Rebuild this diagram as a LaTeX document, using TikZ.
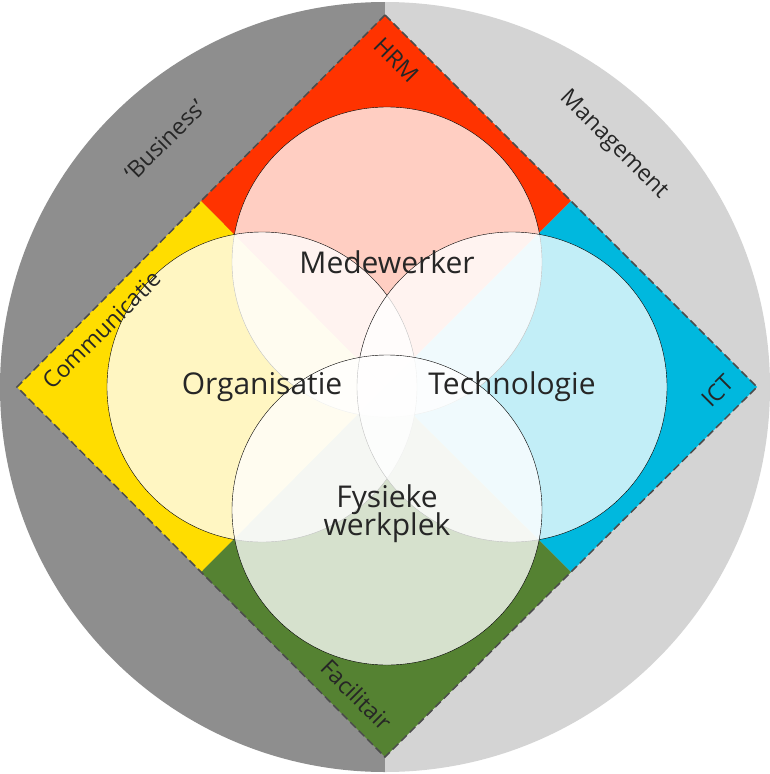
\documentclass[tikz,border=0pt]{standalone}
\usepackage{fontspec}
\setmainfont{Open Sans}
\usetikzlibrary{calc}
\definecolor{hrmred}{HTML}{FF3300}
\definecolor{ictblue}{HTML}{00B8DE}
\definecolor{facgreen}{HTML}{558232}
\definecolor{comyellow}{HTML}{FFDD00}
\definecolor{darkgray}{HTML}{8E8E8E}
\definecolor{lightgray}{HTML}{D4D4D4}
\tikzset{
  venn/.style={circle, draw=black, thin, fill=white, fill opacity=0.76, minimum size=310pt, inner sep=0pt},
  core/.style={font=\fontsize{30}{34}\selectfont, align=center, text=black!85},
  side/.style={font=\fontsize{23}{26}\selectfont, text=black!85}
}
\begin{document}
\begin{tikzpicture}[x=1pt,y=-1pt]
\useasboundingbox (0,0) rectangle (770,774);

%background disc
\begin{scope}
\clip (385,387) circle (385);
\fill[darkgray] (0,0) rectangle (385,774);
\fill[lightgray] (385,0) rectangle (770,774);
\end{scope}

%diamond corners
\coordinate (T) at (385,15);
\coordinate (R) at (757,387);
\coordinate (B) at (385,757);
\coordinate (L) at (17,387);
\coordinate (C) at (385,387);
\coordinate (TL) at ($(T)!0.5!(L)$);
\coordinate (TR) at ($(T)!0.5!(R)$);
\coordinate (BL) at ($(B)!0.5!(L)$);
\coordinate (BR) at ($(B)!0.5!(R)$);

\fill[hrmred] (T) -- (TR) -- (C) -- (TL) -- cycle;
\fill[ictblue] (R) -- (BR) -- (C) -- (TR) -- cycle;
\fill[facgreen] (B) -- (BL) -- (C) -- (BR) -- cycle;
\fill[comyellow] (L) -- (TL) -- (C) -- (BL) -- cycle;
\draw[dash pattern=on 8pt off 4pt, gray!60!black, line width=1.5pt] (T) -- (R) -- (B) -- (L) -- cycle;

%circles
\node[venn] (med) at (387,262) {};
\node[venn] (org) at (262,387) {};
\node[venn] (tec) at (512,387) {};
\node[venn] (fys) at (387,510) {};

\node[core] (medtxt) at (med) {Medewerker};
\node[core] (orgtxt) at (org) {Organisatie};
\node[core] (tectxt) at (tec) {Technologie};
\node[core, yshift=-4pt] (fystxt) at (fys) {Fysieke\\[-6pt]werkplek};

%labels
\node[side, rotate=-45] (hrm) at (397,60) {HRM};
\node[side, rotate=-45] (mgt) at (614,145) {Management};
\node[side, rotate=45] (bus) at (165,140) {‘Business’};
\node[side, rotate=45] (com) at (102,330) {Communicatie};
\node[side, rotate=45] (ict) at (718,391) {ICT};
\node[side, rotate=-45] (fac) at (357,695) {Facilitair};
\end{tikzpicture}
\end{document}
